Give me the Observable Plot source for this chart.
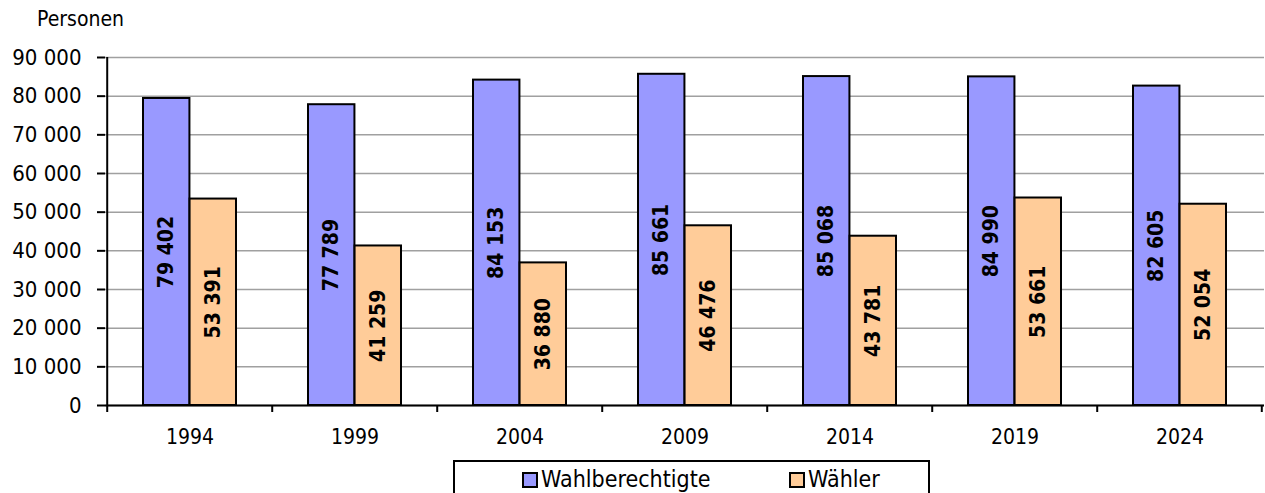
<!DOCTYPE html>
<html><head><meta charset="utf-8">
<script src="https://cdn.jsdelivr.net/npm/d3@7"></script>
<script src="https://cdn.jsdelivr.net/npm/@observablehq/plot@0.6"></script>
<style>
body{margin:0;background:#fff;}
#wrap{position:relative;width:1265px;height:493px;overflow:hidden;font-family:"DejaVu Sans Condensed","DejaVu Sans",sans-serif;font-stretch:condensed;color:#000;}
#ylabel{position:absolute;left:37px;top:7px;font-size:21px;}
#legend{position:absolute;left:453px;top:460px;width:477px;height:45px;border:2px solid #000;box-sizing:border-box;background:#fff;}
.item{position:absolute;top:4px;font-size:23px;line-height:26px;white-space:nowrap;}
.sw{display:inline-block;width:12px;height:12px;border:2px solid #000;margin-right:3px;vertical-align:-1px;}
#chart{position:absolute;left:0;top:0;}
</style></head>
<body>
<div id="wrap">
  <div id="chart"></div>
  <div id="ylabel">Personen</div>
  <div id="legend"></div>
</div>
<script>
const years = ["1994","1999","2004","2009","2014","2019","2024"];
const wahlberechtigte = [79402, 77789, 84153, 85661, 85068, 84990, 82605];
const waehler = [53391, 41259, 36880, 46476, 43781, 53661, 52054];
const seriesNames = ["Wahlberechtigte","Wähler"];
const seriesColors = ["#9999ff","#ffcc99"];
const yTicks = [0,10000,20000,30000,40000,50000,60000,70000,80000,90000];

const W = 1265, H = 493;
const mL = 105, mR = 1, mT = 57, mB = 88;
const bw = (W - mL - mR) / years.length;
const outer = 36, barW = 47;

const loc = d3.formatLocale({decimal: ",", thousands: "\u00a0", grouping: [3], currency: ["", ""]});
const fmt = loc.format(",d");

const d1 = years.map((y,i)=>({year:y, value:wahlberechtigte[i]}));
const d2 = years.map((y,i)=>({year:y, value:waehler[i]}));
const off = bw/2 - outer - barW/2;

const chart = Plot.plot({
  width: W, height: H,
  marginLeft: mL, marginRight: mR, marginTop: mT, marginBottom: mB,
  style: {fontFamily: '"DejaVu Sans Condensed","DejaVu Sans",sans-serif', fontSize: "22px", color:"#000", background:"#fff", fontStretch:"condensed"},
  x: {domain: years, padding: 0, label: null},
  y: {domain: [0, 90000], label: null},
  marks: [
    Plot.gridY(yTicks, {stroke: "#a0a0a0", strokeOpacity: 1, strokeWidth: 1.5}),
    Plot.barY(d1, {x:"year", y:"value", fill: seriesColors[0], stroke:"#000", strokeWidth: 2, insetLeft: outer, insetRight: bw - outer - barW}),
    Plot.barY(d2, {x:"year", y:"value", fill: seriesColors[1], stroke:"#000", strokeWidth: 2, insetLeft: bw - outer - barW, insetRight: outer}),
    Plot.text(d1, {x:"year", y: d=>d.value/2, text: d=>fmt(d.value), rotate: -90, dx: -off, fontWeight: "bold", fontSize: 21, fill: "#000"}),
    Plot.text(d2, {x:"year", y: d=>d.value/2, text: d=>fmt(d.value), rotate: -90, dx: off, fontWeight: "bold", fontSize: 21, fill: "#000"}),
    Plot.ruleY([0], {stroke:"#000", strokeWidth: 2}),
    Plot.ruleX(years, {x: d=>d, dx: -bw/2, y1: 0, y2: 0, insetBottom: -7, stroke:"#000", strokeWidth: 2}),
    Plot.ruleX(years.slice(-1), {x: d=>d, dx: bw/2 - 1, y1: 0, y2: 0, insetBottom: -7, stroke:"#000", strokeWidth: 2}),
    Plot.ruleX(years.slice(0,1), {x: d=>d, dx: -bw/2, stroke:"#000", strokeWidth: 2}),
    Plot.axisY(yTicks, {tickSize: 8, tickPadding: 16, tickFormat: fmt, strokeWidth: 2, stroke:"#000", fontSize: 22}),
    Plot.axisX({tickSize: 0, tickPadding: 24, fontSize: 21})
  ]
});
document.getElementById("chart").appendChild(chart);

const legend = document.getElementById("legend");
const lx = [67, 334];
seriesNames.forEach((n,i)=>{
  const it = document.createElement("div");
  it.className = "item";
  it.style.left = lx[i] + "px";
  it.innerHTML = `<span class="sw" style="background:${seriesColors[i]}"></span>${n}`;
  legend.appendChild(it);
});
</script>
</body></html>
